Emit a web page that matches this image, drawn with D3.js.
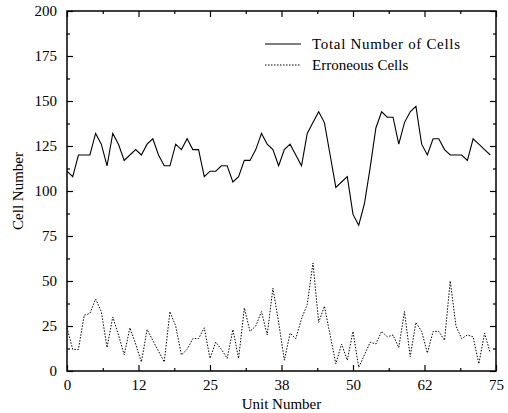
<!DOCTYPE html>
<html>
<head>
<meta charset="utf-8">
<script src="https://cdn.jsdelivr.net/npm/d3@7"></script>
<style>
  body { margin: 0; background: #fff; }
  svg text { font-family: "Liberation Serif", "Times New Roman", Times, "DejaVu Serif", serif !important; font-size: 15px; fill: #000; }
</style>
</head>
<body>
<div id="chart-area"></div>
<script>
// values, one per unit (0..74)
var totalCells = [111, 108, 120, 120, 120, 132, 126, 114, 132, 126,
  117, 120, 123, 120, 126, 129, 120, 114, 114, 126,
  123, 129, 123, 123, 108, 111, 111, 114, 114, 105,
  108, 117, 117, 123, 132, 126, 123, 114, 123, 126,
  120, 114, 132, 138, 144, 138, 120, 102, 105, 108,
  87, 81, 93, 113, 135, 144, 141, 141, 126, 138,
  144, 147, 126, 120, 129, 129, 123, 120, 120, 120,
  117, 129, 126, 123, 120]

var errCells = [24, 12, 12, 31, 32, 40, 33, 13, 30, 20,
  9, 24, 15, 5, 23, 17, 11, 5, 33, 25,
  9, 12, 18, 18, 24, 7, 16, 12, 7, 23,
  7, 35, 22, 25, 33, 20, 46, 27, 6, 21,
  18, 29, 37, 60, 27, 36, 20, 4, 15, 6,
  22, 2, 9, 16, 15, 22, 19, 20, 13, 33,
  8, 27, 22, 10, 22, 22, 17, 50, 25, 18,
  20, 19, 4, 21, 10]

var xTicks = [0, 12.5, 25, 37.5, 50, 62.5, 75]
var xTickLabels = ["0", "12", "25", "38", "50", "62", "75"]
var yTicks = [0, 25, 50, 75, 100, 125, 150, 175, 200]
var seriesNames = ["Total Number of Cells", "Erroneous Cells"]

var margin = { top: 11, bottom: 42, left: 67, right: 12 }
var W = 508, H = 413
var width = W - margin.left - margin.right
var height = H - margin.top - margin.bottom

var svg = d3.select("#chart-area")
  .append("svg")
  .attr("width", W)
  .attr("height", H)

var g = svg.append("g")
  .attr("transform", "translate(" + margin.left + "," + margin.top + ")")

var x = d3.scaleLinear().domain([0, 75]).range([0, width])
var y = d3.scaleLinear().domain([0, 200]).range([height, 0])

var xMinor = d3.range(6.25, 75, 12.5)
var yMinor = d3.range(12.5, 200, 25)

// bottom axis, ticks inward
g.append("g")
  .attr("transform", "translate(0," + height + ")")
  .call(d3.axisBottom(x).tickValues(xTicks).tickSize(-6).tickPadding(8)
    .tickFormat((d, i) => xTickLabels[i]))
  .call(a => a.select(".domain").remove())

g.append("g")
  .attr("transform", "translate(0," + height + ")")
  .call(d3.axisBottom(x).tickValues(xMinor).tickSize(-3).tickFormat(""))
  .call(a => a.select(".domain").remove())

// top mirror
g.append("g")
  .call(d3.axisTop(x).tickValues(xTicks).tickSize(-6).tickFormat(""))
  .call(a => a.select(".domain").remove())
g.append("g")
  .call(d3.axisTop(x).tickValues(xMinor).tickSize(-3).tickFormat(""))
  .call(a => a.select(".domain").remove())

// left axis
g.append("g")
  .call(d3.axisLeft(y).tickValues(yTicks).tickSize(-6).tickPadding(10))
  .call(a => a.select(".domain").remove())
g.append("g")
  .call(d3.axisLeft(y).tickValues(yMinor).tickSize(-3).tickFormat(""))
  .call(a => a.select(".domain").remove())

// right mirror
g.append("g")
  .attr("transform", "translate(" + width + ",0)")
  .call(d3.axisRight(y).tickValues(yTicks).tickSize(-6).tickFormat(""))
  .call(a => a.select(".domain").remove())
g.append("g")
  .attr("transform", "translate(" + width + ",0)")
  .call(d3.axisRight(y).tickValues(yMinor).tickSize(-3).tickFormat(""))
  .call(a => a.select(".domain").remove())

g.selectAll("g").attr("font-family", null).attr("font-size", null)
g.selectAll(".tick line").attr("stroke", "#000").attr("stroke-width", 1.2)

// frame
g.append("rect")
  .attr("x", 0).attr("y", 0)
  .attr("width", width).attr("height", height)
  .attr("fill", "none")
  .attr("stroke", "#000")
  .attr("stroke-width", 1.5)

// lines
var line = d3.line()
  .x((d, i) => x(i))
  .y(d => y(d))

g.append("path")
  .datum(totalCells)
  .attr("d", line)
  .attr("fill", "none")
  .attr("stroke", "#000")
  .attr("stroke-width", 1.1)

g.append("path")
  .datum(errCells)
  .attr("d", line)
  .attr("fill", "none")
  .attr("stroke", "#000")
  .attr("stroke-width", 1)
  .attr("stroke-dasharray", "1.5,1.5")

// legend
var legend = g.append("g")
  .attr("transform", "translate(" + (265 - margin.left) + "," + (44 - margin.top) + ")")

legend.append("line")
  .attr("x1", 0).attr("x2", 36).attr("y1", 0).attr("y2", 0)
  .attr("stroke", "#000").attr("stroke-width", 1.1)
legend.append("text")
  .attr("x", 47).attr("y", 5)
  .attr("textLength", 148)
  .attr("lengthAdjust", "spacing")
  .text(seriesNames[0])

legend.append("line")
  .attr("x1", 0).attr("x2", 36).attr("y1", 21).attr("y2", 21)
  .attr("stroke", "#000").attr("stroke-width", 1)
  .attr("stroke-dasharray", "1.5,1.5")
legend.append("text")
  .attr("x", 47).attr("y", 26)
  .text(seriesNames[1])

// axis labels
svg.append("text")
  .attr("x", margin.left + width / 2)
  .attr("y", 409)
  .attr("text-anchor", "middle")
  .text("Unit Number")

svg.append("text")
  .attr("transform", "rotate(-90)")
  .attr("x", -191)
  .attr("y", 23)
  .attr("text-anchor", "middle")
  .text("Cell Number")
</script>
</body>
</html>
